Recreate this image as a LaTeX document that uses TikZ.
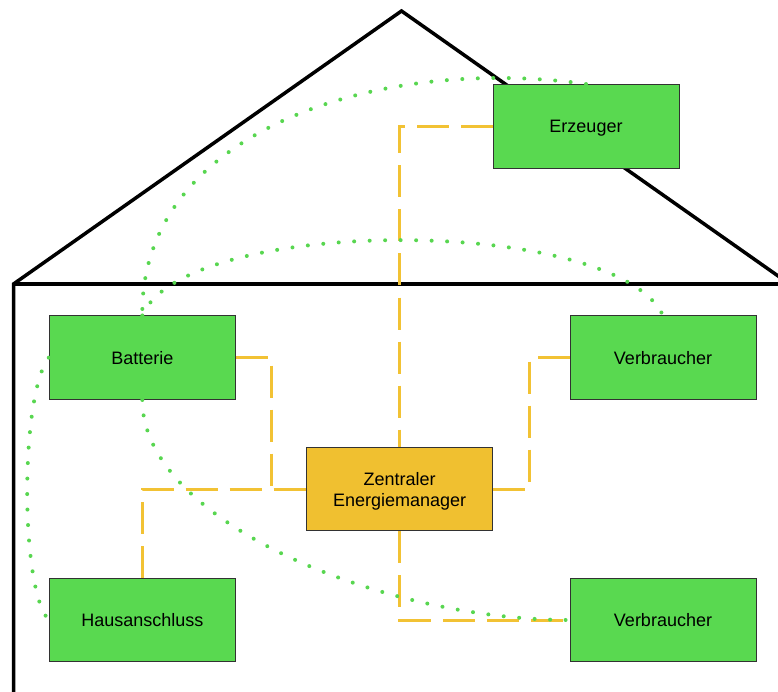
\documentclass[tikz,border=0pt]{standalone}
\usepackage{fontspec}
\setmainfont{Liberation Sans}
\definecolor{boxgreen}{RGB}{89,217,80}
\definecolor{dotgreen}{RGB}{88,214,80}
\definecolor{boxyellow}{RGB}{240,192,48}
\definecolor{lineyellow}{RGB}{242,194,52}
\definecolor{boxborder}{RGB}{50,50,50}
\tikzset{
  housebox/.style={draw=boxborder, line width=1pt, minimum width=186pt, minimum height=83.5pt,
    inner sep=0pt, align=center, text depth=0pt, font=\fontsize{18}{21}\selectfont},
  greenbox/.style={housebox, fill=boxgreen},
  yellowbox/.style={housebox, fill=boxyellow},
  houseline/.style={draw=black, line width=3.5pt, line join=miter},
  yellowlink/.style={draw=lineyellow, line width=3pt, dash pattern=on 32pt off 12pt},
  greenlink/.style={draw=dotgreen, line width=4pt, line cap=round, dash pattern=on 0pt off 15.5pt},
}
\begin{document}
\begin{tikzpicture}[x=1pt,y=-1pt]
\useasboundingbox (0,0) rectangle (778,692);
\clip (0,0) rectangle (778,692);
% house
\draw[houseline] (13.5,720) -- (13.5,284) -- (401.5,11) -- (789.5,284);
\draw[houseline] (13.5,284) -- (789.5,284);
% boxes
\node[greenbox] (erz) at (586,126.3) {Erzeuger};
\node[greenbox] (bat) at (142.3,357.7) {Batterie};
\node[greenbox] (v1) at (663,357.7) {Verbraucher};
\node[yellowbox] (em) at (399.7,489) {Zentraler\\Energiemanager};
\node[greenbox] (haus) at (142.3,620) {Hausanschluss};
\node[greenbox] (v2) at (663,620) {Verbraucher};
% yellow dashed connectors
\draw[yellowlink] (erz.west) -| (em.north);
\draw[yellowlink] (bat.east) -- ++(36,0) |- (em.west);
\draw[yellowlink] (haus.north) |- (em.west);
\draw[yellowlink] (v1.west) -- ++(-40,0) |- (em.east);
\draw[yellowlink] (em.south) |- (v2.west);
% green dotted connectors
\draw[greenlink] (erz.north) .. controls (380,55) and (140,130) .. (bat.north);
\draw[greenlink] (bat.north) .. controls (185,215) and (615,215) .. (v1.north);
\draw[greenlink] (bat.west) .. controls (20,395) and (20,590) .. (haus.west);
\draw[greenlink] (bat.south) .. controls (142,520) and (380,620) .. (v2.west);
\end{tikzpicture}
\end{document}
